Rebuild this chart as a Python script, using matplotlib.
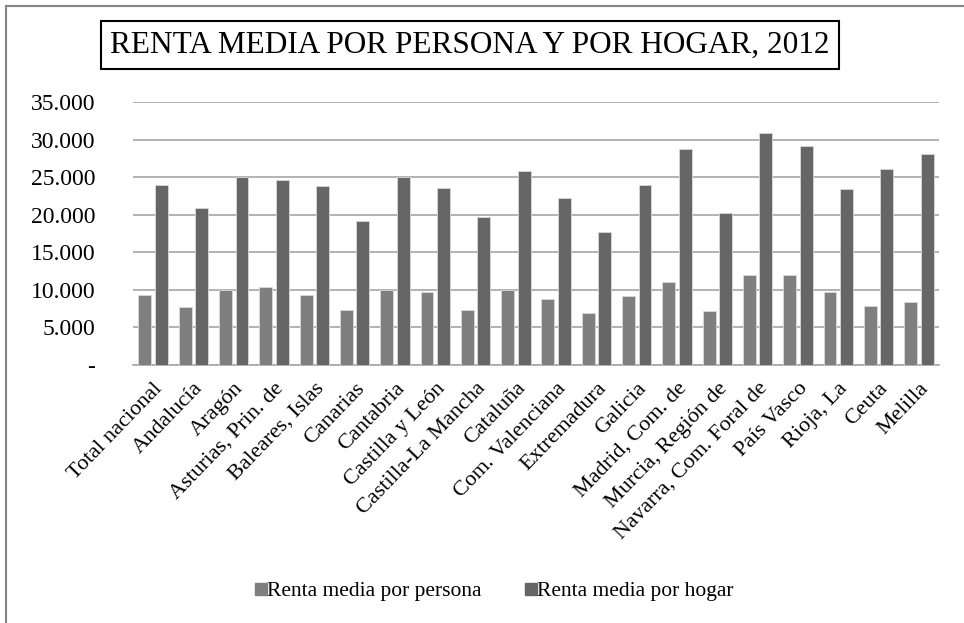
import matplotlib
matplotlib.use("Agg")
import matplotlib.pyplot as plt
import numpy as np
from matplotlib.lines import Line2D
from matplotlib.ticker import FuncFormatter

categories = ["Total nacional", "Andalucía", "Aragón", "Asturias, Prin. de",
              "Baleares, Islas", "Canarias", "Cantabria", "Castilla y León",
              "Castilla-La Mancha", "Cataluña", "Com. Valenciana", "Extremadura",
              "Galicia", "Madrid, Com. de", "Murcia, Región de",
              "Navarra, Com. Foral de", "País Vasco", "Rioja, La", "Ceuta", "Melilla"]
renta_persona = [9330, 7690, 10000, 10400, 9330, 7330, 10000, 9690, 7330, 10000,
                 8800, 6980, 9160, 11020, 7160, 11930, 11930, 9690, 7870, 8400]
renta_hogar = [23980, 20930, 25000, 24560, 23800, 19160, 25000, 23580, 19690, 25800,
               22220, 17690, 23980, 28800, 20220, 30840, 29160, 23450, 26070, 28090]
yticks = [0, 5000, 10000, 15000, 20000, 25000, 30000, 35000]
title = "RENTA MEDIA POR PERSONA Y POR HOGAR, 2012"
series_names = ["Renta media por persona", "Renta media por hogar"]

plt.rcParams['font.family'] = ['Liberation Serif', 'DejaVu Serif']

W, H = 964, 623
fig = plt.figure(figsize=(W / 100, H / 100), dpi=100)
ax = fig.add_axes([133 / W, 1 - 365 / H, (939 - 133) / W, (365 - 102) / H])

x = np.arange(len(categories))
bw = 0.32
c1, c2 = "#7f7f7f", "#666666"
ax.bar(x - 0.205, renta_persona, bw, color=c1, edgecolor="#d9d9d9", linewidth=0.6, zorder=3)
ax.bar(x + 0.205, renta_hogar, bw, color=c2, edgecolor="#d9d9d9", linewidth=0.6, zorder=3)

ax.set_xlim(-0.5, len(categories) - 0.5)
ax.set_ylim(0, 35000)
ax.set_yticks(yticks)
ax.yaxis.set_major_formatter(FuncFormatter(lambda v, p: "-" if v == 0 else f"{int(v):,}".replace(",", ".")))
ax.grid(axis="y", color="#a6a6a6", linewidth=1.2, zorder=0)
for s in ["top", "right", "left"]:
    ax.spines[s].set_visible(False)
ax.spines["bottom"].set_color("#a6a6a6")
ax.spines["bottom"].set_linewidth(1.2)
ax.tick_params(axis="y", length=0, pad=27, labelsize=17)
ax.tick_params(axis="x", length=0, pad=10, labelsize=16)
ax.set_xticks(x)
ax.set_xticklabels(categories, rotation=46, ha="right", va="top", rotation_mode="anchor")

# title with box
fig.text(470 / W, 1 - 45 / H, title, ha="center", va="center", fontsize=22.5,
         bbox=dict(boxstyle="square,pad=0.3", facecolor="white", edgecolor="black", linewidth=1.5))

# legend
handles = [Line2D([0], [0], marker="s", linestyle="", markersize=8, color=c1),
           Line2D([0], [0], marker="s", linestyle="", markersize=8, color=c2)]
fig.legend(handles, series_names, loc="center", bbox_to_anchor=(494 / W, 1 - 591 / H),
           ncol=2, frameon=False, fontsize=15.5, handletextpad=0.0, columnspacing=2.0,
           handlelength=0.6)

# outer border (top and left)
fig.add_artist(Line2D([6 / W, 1], [1 - 6 / H, 1 - 6 / H], color="#868686", linewidth=1.5,
                      transform=fig.transFigure))
fig.add_artist(Line2D([6 / W, 6 / W], [0, 1 - 6 / H], color="#868686", linewidth=1.5,
                      transform=fig.transFigure))

fig.savefig("out.png", dpi=100, facecolor="white")
